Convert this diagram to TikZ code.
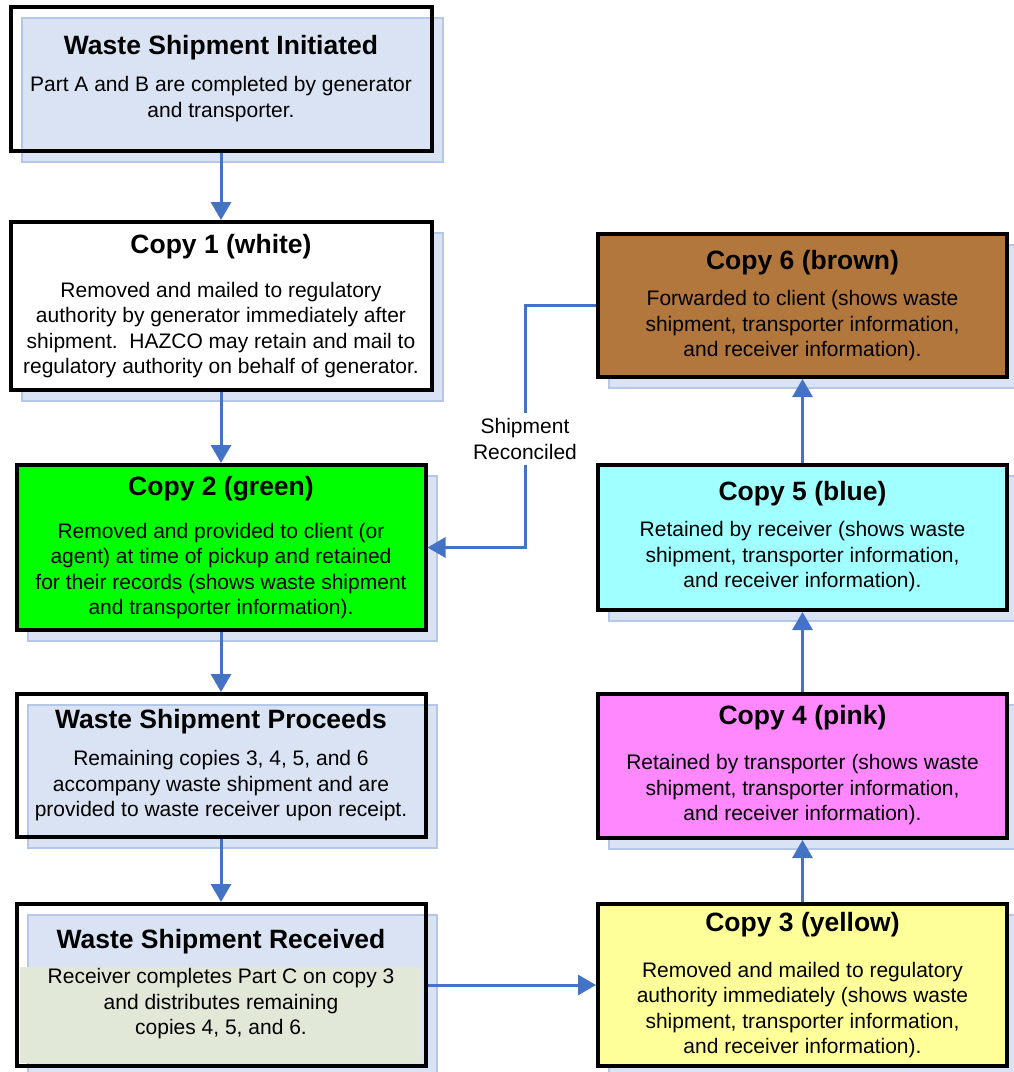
\documentclass[tikz,border=0pt]{standalone}
\usepackage{fontspec}
\setmainfont{Liberation Sans}
\usetikzlibrary{arrows.meta,positioning,shadows}
\definecolor{flowblue}{HTML}{4472C4}
\definecolor{shadowblue}{HTML}{DAE3F3}
\definecolor{shadowedge}{HTML}{B4C7E7}
\definecolor{copygreen}{HTML}{00FF00}
\definecolor{copycyan}{HTML}{A0FFFF}
\definecolor{copypink}{HTML}{FF88FF}
\definecolor{copyyellow}{HTML}{FFFF99}
\definecolor{copybrown}{HTML}{B2773D}
\definecolor{bandgreen}{HTML}{E2E8D8}

\tikzset{
  formbox/.style={draw=black, line width=4pt, rectangle, inner sep=0pt,
    general shadow={shadow xshift=11pt, shadow yshift=-11pt,
      fill=shadowblue, draw=shadowedge, line width=2pt}},
  boxtitle/.style={font=\fontsize{26.5}{30}\selectfont\bfseries, inner sep=0pt},
  boxtext/.style={font=\fontsize{21}{25.5}\selectfont, align=center, inner sep=0pt},
  flow/.style={draw=flowblue, line width=3pt, -{Triangle[width=20pt,length=18pt]}},
}

\begin{document}
\begin{tikzpicture}[x=1pt,y=-1pt]
\useasboundingbox (0,0) rectangle (1014,1072);
% left column
\node[formbox, minimum width=421pt, minimum height=144pt] (init) at (221,79) {};
\node[boxtitle] (initT) at (221,48) {Waste Shipment Initiated};
\node[boxtext] (initB) at (221,99) {Part A and B are completed by generator\\and transporter.};

\node[formbox, fill=white, minimum width=421pt, minimum height=168pt] (copy1) at (221,306) {};
\node[boxtitle] (copy1T) at (221,247) {Copy 1 (white)};
\node[boxtext] (copy1B) at (221,330) {Removed and mailed to regulatory\\authority by generator immediately after\\shipment.\ \ HAZCO may retain and mail to\\regulatory authority on behalf of generator.};

\node[formbox, fill=copygreen, minimum width=409pt, minimum height=165pt] (copy2) at (221,547.5) {};
\node[boxtitle] (copy2T) at (221,489) {Copy 2 (green)};
\node[boxtext] (copy2B) at (221,571) {Removed and provided to client (or\\agent) at time of pickup and retained\\for their records (shows waste shipment\\and transporter information).};

\node[formbox, minimum width=409pt, minimum height=143pt] (proceeds) at (221,765.5) {};
\node[boxtitle] (proceedsT) at (221,722) {Waste Shipment Proceeds};
\node[boxtext] (proceedsB) at (221,786) {Remaining copies 3, 4, 5, and 6\\accompany waste shipment and are\\provided to waste receiver upon receipt.};

\node[formbox, minimum width=409pt, minimum height=162pt] (received) at (221,985) {};
\fill[bandgreen] (20,967) rectangle (422,1063);
\node[boxtitle] (receivedT) at (221,942) {Waste Shipment Received};
\node[boxtext] (receivedB) at (221,1004) {Receiver completes Part C on copy 3\\and distributes remaining\\copies 4, 5, and 6.};

% right column
\node[formbox, fill=copyyellow, minimum width=409pt, minimum height=162pt] (copy3) at (802.5,985) {};
\node[boxtitle] (copy3T) at (802.5,925) {Copy 3 (yellow)};
\node[boxtext] (copy3B) at (802.5,1010) {Removed and mailed to regulatory\\authority immediately (shows waste\\shipment, transporter information,\\and receiver information).};

\node[formbox, fill=copypink, minimum width=409pt, minimum height=144pt] (copy4) at (802.5,766) {};
\node[boxtitle] (copy4T) at (802.5,718) {Copy 4 (pink)};
\node[boxtext] (copy4B) at (802.5,790) {Retained by transporter (shows waste\\shipment, transporter information,\\and receiver information).};

\node[formbox, fill=copycyan, minimum width=409pt, minimum height=145pt] (copy5) at (802.5,537.5) {};
\node[boxtitle] (copy5T) at (802.5,494) {Copy 5 (blue)};
\node[boxtext] (copy5B) at (802.5,557) {Retained by receiver (shows waste\\shipment, transporter information,\\and receiver information).};

\node[formbox, fill=copybrown, minimum width=409pt, minimum height=143pt] (copy6) at (802.5,305.5) {};
\node[boxtitle] (copy6T) at (802.5,263) {Copy 6 (brown)};
\node[boxtext] (copy6B) at (802.5,326) {Forwarded to client (shows waste\\shipment, transporter information,\\and receiver information).};

% connectors
\draw[flow] (init.south) -- (copy1.north);
\draw[flow] (copy1.south) -- (copy2.north);
\draw[flow] (copy2.south) -- (proceeds.north);
\draw[flow] (proceeds.south) -- (received.north);
\draw[flow] (received.east) -- (copy3.west);
\draw[flow] (copy3.north) -- (copy4.south);
\draw[flow] (copy4.north) -- (copy5.south);
\draw[flow] (copy5.north) -- (copy6.south);

\node[boxtext, inner sep=5pt] (recon) at (525,439) {Shipment\\Reconciled};
\draw[flow] (copy6.west) -| (recon) |- (copy2.east);
\end{tikzpicture}
\end{document}
